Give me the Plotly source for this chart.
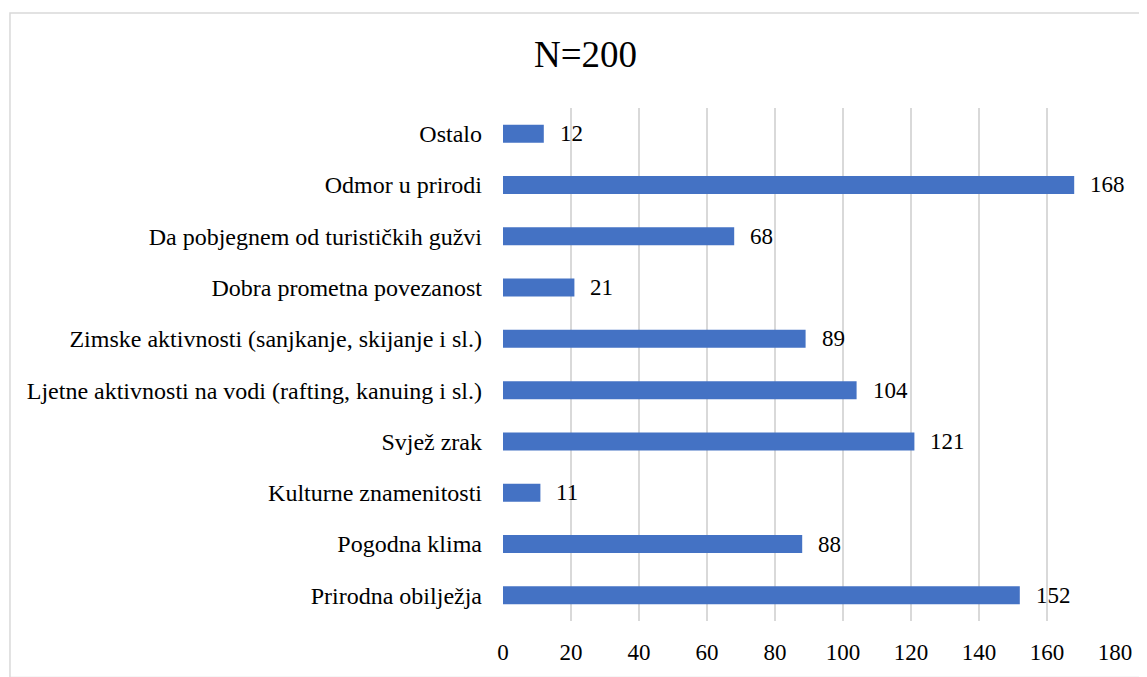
import plotly.graph_objects as go

categories = [
    "Prirodna obilježja",
    "Pogodna klima",
    "Kulturne znamenitosti",
    "Svjež zrak",
    "Ljetne aktivnosti na vodi (rafting, kanuing i sl.)",
    "Zimske aktivnosti (sanjkanje, skijanje i sl.)",
    "Dobra prometna povezanost",
    "Da pobjegnem od turističkih gužvi",
    "Odmor u prirodi",
    "Ostalo",
]
values = [152, 88, 11, 121, 104, 89, 21, 68, 168, 12]
x_ticks = [0, 20, 40, 60, 80, 100, 120, 140, 160, 180]
title_text = "N=200"

FONT = "'Liberation Serif', 'Times New Roman', 'DejaVu Serif', serif"
BAR_COLOR = "#4472C4"

fig = go.Figure()
fig.add_trace(go.Bar(
    x=values,
    y=categories,
    orientation="h",
    marker=dict(color=BAR_COLOR, line=dict(width=0)),
    hoverinfo="x+y",
))

for c, v in zip(categories, values):
    fig.add_annotation(
        x=v, y=c, xref="x", yref="y",
        text=str(v), showarrow=False,
        xanchor="left", yanchor="middle", xshift=14,
        font=dict(family=FONT, size=23, color="#000000"),
    )

# chart border
fig.add_shape(
    type="rect", xref="paper", yref="paper",
    x0=-0.8056, x1=1.0507, y0=-0.11, y1=1.1853,
    line=dict(color="#d9d9d9", width=1.5), fillcolor="rgba(0,0,0,0)",
    layer="below",
)

fig.update_layout(
    width=1139, height=669,
    margin=dict(l=495, r=32, t=100, b=51),
    paper_bgcolor="white", plot_bgcolor="white",
    bargap=0.65,
    showlegend=False,
    font=dict(family=FONT, size=23, color="#000000"),
    title=dict(
        text=title_text, x=0.507, xref="container", xanchor="center",
        y=0.931, yref="container", yanchor="middle",
        font=dict(family=FONT, size=37, color="#000000"),
    ),
    xaxis=dict(
        range=[0, 180], tickvals=x_ticks, ticktext=[str(t) for t in x_ticks],
        showgrid=True, gridcolor="#d9d9d9", gridwidth=1.5,
        zeroline=False, showline=False, ticks="",
        ticklabelstandoff=15,
        tickfont=dict(family=FONT, size=23, color="#000000"),
        fixedrange=True,
    ),
    yaxis=dict(
        categoryorder="array", categoryarray=categories,
        showgrid=False, zeroline=False, showline=False, ticks="",
        ticklabelstandoff=20,
        tickfont=dict(family=FONT, size=24, color="#000000"),
        fixedrange=True,
    ),
)

fig.write_html("out.html")
